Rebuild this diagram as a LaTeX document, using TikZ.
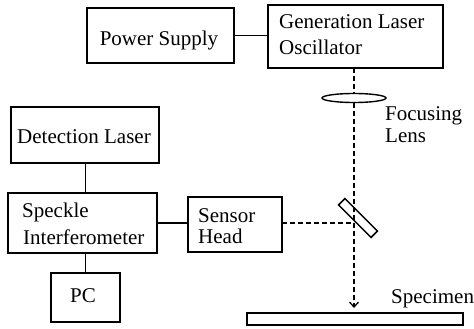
\documentclass[tikz,border=0pt]{standalone}
\usepackage{fontspec}
\setmainfont{Liberation Serif}
\usetikzlibrary{shapes.geometric,arrows.meta,calc}
\begin{document}
\begin{tikzpicture}[x=1pt,y=-1pt,
  box/.style={draw=black,line width=1.5pt,rectangle,inner sep=0pt,outer sep=0pt},
  lbl/.style={inner sep=0pt,anchor=base west,font=\fontsize{21}{24}\selectfont},
  clbl/.style={inner sep=0pt,anchor=base,font=\fontsize{21}{24}\selectfont},
  wire/.style={line width=1.5pt},
  beam/.style={line width=1.4pt,dash pattern=on 5pt off 3pt}]
\useasboundingbox[fill=white] (0,0) rectangle (474,329);
% boxes
\node[box,minimum width=147pt,minimum height=55pt] (ps) at (160.5,35.5) {};
\node[box,minimum width=175pt,minimum height=63pt] (gl) at (355.5,36.5) {};
\node[box,minimum width=148pt,minimum height=56pt] (dl) at (85,135) {};
\node[box,minimum width=149pt,minimum height=60pt] (si) at (82.5,223) {};
\node[box,minimum width=94pt,minimum height=55pt] (sh) at (235,224.5) {};
\node[box,minimum width=69pt,minimum height=49pt] (pc) at (85.5,297.5) {};
\node[box,minimum width=216pt,minimum height=12pt] (spec) at (355,319) {};
% optics
\node[draw=black,line width=1.4pt,ellipse,inner sep=0pt,minimum width=64pt,minimum height=9pt] (lens) at (354,98) {};
\node[box,minimum width=46pt,minimum height=9pt,rotate=-45] (mirror) at (358,218) {};
% labels
\node[clbl] (tps) at (159,46) {Power Supply};
\node[lbl] (tgl1) at (279,28.5) {Generation Laser};
\node[lbl] (tgl2) at (279,55) {Oscillator};
\node[clbl] (tdl) at (84,143) {Detection Laser};
\node[lbl] (tsi1) at (22,217) {Speckle};
\node[lbl] (tsi2) at (23,244) {Interferometer};
\node[lbl] (tsh1) at (198,222) {Sensor};
\node[lbl] (tsh2) at (198,243) {Head};
\node[clbl] (tpc) at (83,302) {PC};
\node[lbl] (tfl1) at (385,120) {Focusing};
\node[lbl] (tfl2) at (385,142) {Lens};
\node[lbl] (tsp) at (391,303) {Specimen};
% wires
\draw[wire] (ps.east) -- (ps.east -| gl.west);
\draw[wire] (dl.south -| pc.north) -- (si.north -| pc.north);
\draw[wire] (si.south -| pc.north) -- (pc.north);
\draw[wire] (si.east |- 0,223) -- (sh.west |- 0,223);
% beams
\draw[beam] (lens |- gl.south) -- (lens.north);
\draw[beam,-{Straight Barb[length=5pt,width=9pt,line width=1.3pt]}] (lens.south) -- ($(lens |- spec.north)+(0,-5)$);
\draw[beam] (sh.east |- 0,223) -- (lens |- 0,223);
\end{tikzpicture}
\end{document}
